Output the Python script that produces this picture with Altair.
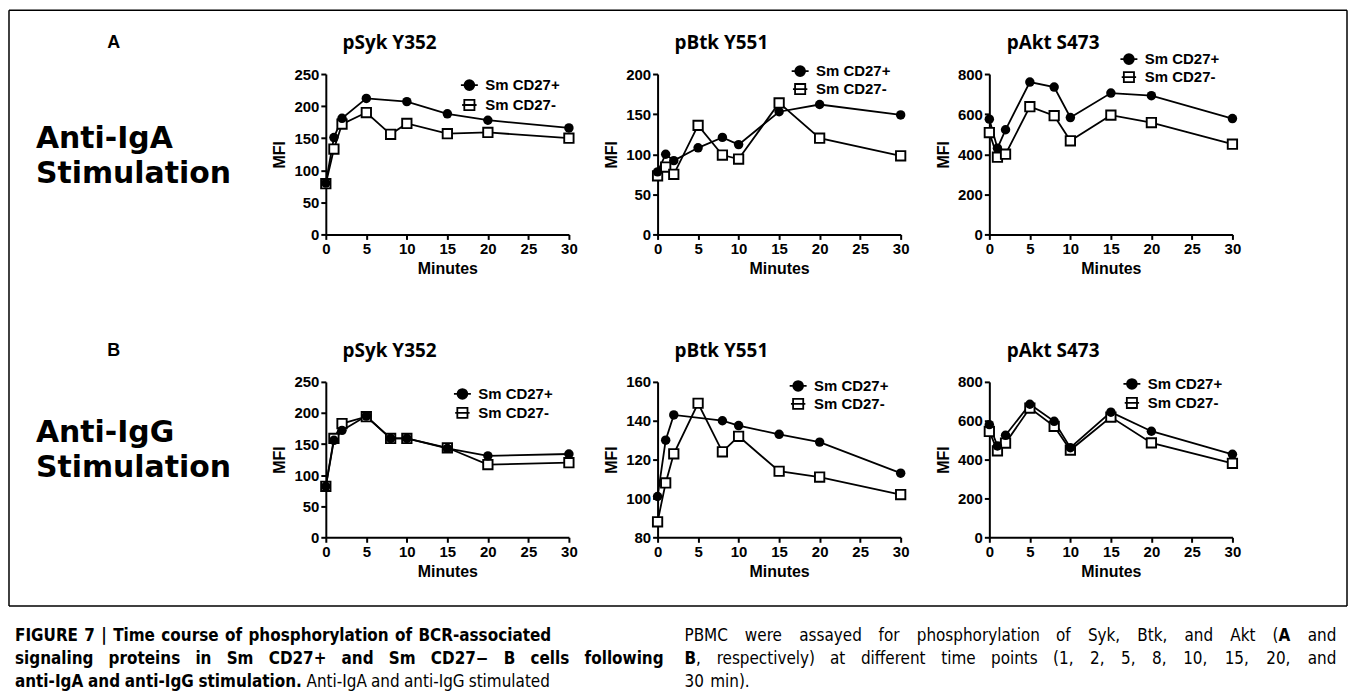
import altair as alt
import pandas as pd

# ---------------- data ----------------
minutes = [0, 1, 2, 5, 8, 10, 15, 20, 30]
minutes_no8 = [0, 1, 2, 5, 10, 15, 20, 30]
minutes_no5 = [0, 1, 2, 8, 10, 15, 20, 30]

# Row A: anti-IgA stimulation
a_syk_pos = [80, 151, 181, 212, 207, 188, 178, 166]          # minutes_no8
a_syk_neg = [79, 133, 172, 190, 156, 173, 157, 159, 150]
a_btk_pos = [78, 100, 92, 108, 121, 112, 153, 162, 149]
a_btk_neg = [73, 84, 75, 136, 99, 94, 164, 120, 98]
a_akt_pos = [575, 430, 522, 760, 735, 583, 705, 692, 578]
a_akt_neg = [508, 385, 400, 637, 592, 467, 595, 558, 450]

# Row B: anti-IgG stimulation
b_syk_pos = [82, 156, 172, 195, 159, 159, 143, 131, 134]
b_syk_neg = [82, 159, 183, 194, 159, 159, 144, 117, 120]
b_btk_pos = [101, 130, 143, 140, 137.5, 133, 129, 113]       # minutes_no5
b_btk_neg = [88, 108, 123, 149, 124, 132, 114, 111, 102]
b_akt_pos = [580, 470, 525, 685, 597, 461, 644, 546, 427]
b_akt_neg = [545, 445, 485, 665, 571, 449, 619, 486, 381]

x_ticks = [0, 5, 10, 15, 20, 25, 30]
series_names = ["Sm CD27+", "Sm CD27-"]
panel_titles = ["pSyk Y352", "pBtk Y551", "pAkt S473"]
row_letters = ["A", "B"]
row_labels = ["Anti-IgA\nStimulation", "Anti-IgG\nStimulation"]

# caption lines: lists of words, each word a list of (text, weight) pieces
B_, N_ = "bold", "normal"
cap_L1 = [[(w, B_)] for w in "FIGURE 7 | Time course of phosphorylation of BCR-associated".split()]
cap_L2 = [[(w, B_)] for w in "signaling proteins in Sm CD27+ and Sm CD27\u2212 B cells following".split()]
cap_L3 = ([[(w, B_)] for w in "anti-IgA and anti-IgG stimulation.".split()]
          + [[(w, N_)] for w in "Anti-IgA and anti-IgG stimulated".split()])
cap_R1 = ([[(w, N_)] for w in "PBMC were assayed for phosphorylation of Syk, Btk, and Akt".split()]
          + [[("(", N_), ("A", B_)], [("and", N_)]])
cap_R2 = ([[("B", B_), (",", N_)]]
          + [[(w, N_)] for w in "respectively) at different time points (1, 2, 5, 8, 10, 15, 20, and".split()])
cap_R3 = [[(w, N_)] for w in "30 min).".split()]

# ---------------- style ----------------
FONT = "Liberation Sans"
TFONT = "Open Sans"
RFONT = "DejaVu Sans"
CFONT = "DejaVu Sans Condensed, Liberation Sans Narrow, Liberation Sans"
PW = 244
HA = 161
HB = 156
LW = 229
COLSP = 89

PLUS_PATH = "M-1,0H1M-0.58,0A0.58,0.58 0 1,1 0.58,0A0.58,0.58 0 1,1 -0.58,0Z"
MINUS_PATH = "M-0.6,-0.6H0.6V0.6H-0.6ZM-0.85,0H0.85"


def legend(cx, cy, path, fillc):
    return alt.Legend(
        orient="none", legendX=cx - 9.4, legendY=cy - 9.4, title=None,
        symbolType=path, symbolSize=289, symbolStrokeWidth=1.8,
        symbolStrokeColor="black", symbolFillColor=fillc, symbolOpacity=1,
        labelFont=FONT, labelFontWeight="bold", labelFontSize=15,
        labelColor="black", labelOffset=6.5, padding=0, labelLimit=300,
    )


def panel(title, xp, yp, xm, ym, ydom, ystep, h, leg):
    dp = pd.DataFrame({"Minutes": xp, "MFI": yp, "series": series_names[0]})
    dm = pd.DataFrame({"Minutes": xm, "MFI": ym, "series": series_names[1]})
    x = alt.X("Minutes:Q",
              scale=alt.Scale(domain=[0, 30], nice=False, zero=False),
              axis=alt.Axis(values=x_ticks, title="Minutes"))
    y = alt.Y("MFI:Q",
              scale=alt.Scale(domain=ydom, nice=False, zero=False),
              axis=alt.Axis(values=list(range(ydom[0], ydom[1] + 1, ystep)), title="MFI"))
    line_p = alt.Chart(dp).mark_line(color="black", strokeWidth=1.8).encode(x=x, y=y)
    line_m = alt.Chart(dm).mark_line(color="black", strokeWidth=1.8).encode(x=x, y=y)
    pts_m = alt.Chart(dm).mark_point(
        shape="square", size=88, filled=False, fill="white", strokeWidth=1.9, opacity=1
    ).encode(
        x=x, y=y,
        stroke=alt.Stroke("series:N",
                          scale=alt.Scale(domain=[series_names[1]], range=["black"]),
                          legend=legend(leg[0], leg[2], MINUS_PATH, "white")),
    )
    pts_p = alt.Chart(dp).mark_point(
        shape="circle", size=90, filled=True, opacity=1
    ).encode(
        x=x, y=y,
        fill=alt.Fill("series:N",
                      scale=alt.Scale(domain=[series_names[0]], range=["black"]),
                      legend=legend(leg[0], leg[1], PLUS_PATH, "black")),
    )
    ttl = alt.Chart(pd.DataFrame({"t": [title]})).mark_text(
        font=TFONT, fontWeight="bold", fontSize=19, align="center",
        baseline="middle", color="black"
    ).encode(text="t:N", x=alt.value(64), y=alt.value(-31))
    return alt.layer(line_p, line_m, pts_m, pts_p, ttl).properties(width=PW, height=h)


def text_layer(txt, x, y, size, weight="bold", font=TFONT, align="left", lh=None):
    kw = {}
    if lh is not None:
        kw = {"lineBreak": "\n", "lineHeight": lh}
    return alt.Chart(pd.DataFrame({"t": [txt]})).mark_text(
        font=font, fontWeight=weight, fontSize=size, align=align,
        baseline="middle", color="black", **kw
    ).encode(text="t:N", x=alt.value(x), y=alt.value(y))


def rule(x1, y1, x2, y2):
    return alt.Chart(pd.DataFrame({"r": [0]})).mark_rule(
        color="black", strokeWidth=1.5
    ).encode(x=alt.value(x1), x2=alt.value(x2), y=alt.value(y1), y2=alt.value(y2))


# ---------- caption word layout (approximate justified text) ----------
REG = {' ': 651, '!': 821, '(': 799, ')': 799, ',': 651, '-': 739, '.': 651, ':': 690,
       ';': 690, '|': 690, '+': 1716, '\u2212': 1716,
       'A': 1401, 'B': 1405, 'C': 1430, 'D': 1577, 'E': 1294, 'F': 1178, 'G': 1587,
       'H': 1540, 'I': 604, 'J': 604, 'K': 1343, 'L': 1141, 'M': 1767, 'N': 1532,
       'O': 1612, 'P': 1235, 'Q': 1612, 'R': 1423, 'S': 1300, 'T': 1251, 'U': 1499,
       'V': 1401, 'W': 2025, 'X': 1403, 'Y': 1251, 'Z': 1405,
       'a': 1255, 'b': 1300, 'c': 1126, 'd': 1300, 'e': 1260, 'f': 721, 'g': 1300,
       'h': 1298, 'i': 569, 'j': 569, 'k': 1186, 'l': 569, 'm': 1995, 'n': 1298,
       'o': 1253, 'p': 1300, 'q': 1300, 'r': 842, 's': 1067, 't': 803, 'u': 1298,
       'v': 1212, 'w': 1675, 'x': 1212, 'y': 1212, 'z': 1075}
BLD = {' ': 713, '(': 934, ')': 934, ',': 778, '-': 852, '.': 778, '|': 739, '+': 1716,
       '\u2212': 1716, 'A': 1590, 'B': 1556, 'C': 1497, 'D': 1696, 'E': 1399, 'F': 1399,
       'G': 1669, 'H': 1714, 'I': 762, 'K': 1567, 'M': 2035, 'P': 1505, 'R': 1567,
       'S': 1479, 'T': 1399, 'U': 1663, 'Y': 1505,
       'a': 1382, 'b': 1466, 'c': 1219, 'd': 1466, 'e': 1389, 'f': 891, 'g': 1466,
       'h': 1458, 'i': 702, 'j': 702, 'k': 1362, 'l': 702, 'm': 2134, 'n': 1458,
       'o': 1407, 'p': 1466, 'r': 1010, 's': 1219, 't': 979, 'u': 1458, 'v': 1335,
       'w': 1892, 'x': 1321, 'y': 1335, 'z': 1192}
CAP_SIZE = 17


def raw_w(s, weight):
    tab = BLD if weight == B_ else REG
    return sum(tab.get(c, 1425 if c.isdigit() else 1300) for c in s)


# calibrate against widths measured in a previous render (17px)
K_B = 529.0 / raw_w("FIGURE 7 | Time course of phosphorylation of BCR-associated", B_) * CAP_SIZE / 17
K_N = 469.0 / raw_w("PBMC were assayed for phosphorylation of Syk, Btk, and Akt (", N_) * CAP_SIZE / 17


def piece_w(t, weight):
    return raw_w(t, weight) * (K_B if weight == B_ else K_N)


def layout_line(words, x0, y, x1=None):
    widths = [sum(piece_w(t, w) for t, w in word) for word in words]
    space = piece_w(" ", N_)
    gap = space
    if x1 is not None and len(words) > 1:
        gap = max(space, (x1 - x0 - sum(widths)) / (len(words) - 1))
    rows = []
    x = x0
    for word, wd in zip(words, widths):
        px = x
        for t, w in word:
            rows.append({"txt": t, "x": px, "y": y, "weight": w})
            px += piece_w(t, w)
        x += wd + gap
    return rows


cap_y = [99, 122, 145]
cap_rows = (layout_line(cap_L1, 6, cap_y[0], 544)
            + layout_line(cap_L2, 6, cap_y[1], 657)
            + layout_line(cap_L3, 6, cap_y[2])
            + layout_line(cap_R1, 678, cap_y[0], 1332)
            + layout_line(cap_R2, 678, cap_y[1], 1332)
            + layout_line(cap_R3, 678, cap_y[2]))
cap_df = pd.DataFrame(cap_rows)


def cap_layer(weight):
    return alt.Chart(cap_df[cap_df["weight"] == weight]).mark_text(
        font=CFONT, fontWeight=weight, fontSize=CAP_SIZE, align="left",
        baseline="middle", color="black"
    ).encode(text="txt:N", x=alt.X("x:Q", scale=None), y=alt.Y("y:Q", scale=None))


# row label panels (first one also carries the figure frame)
RL = 30
RLH = 35
BOX_B = 534
label_a = alt.layer(
    rule(0, -64, 1343, -64), rule(0, -64, 0, BOX_B), rule(1343, -64, 1343, BOX_B),
    rule(0, BOX_B, 1343, BOX_B),
    text_layer(row_letters[0], 105, -31, 18, font=FONT, align="center"),
    text_layer(row_labels[0], 27, 65, RL, font=RFONT, lh=RLH),
).properties(width=LW, height=HA + 148)

label_b = alt.layer(
    text_layer(row_letters[1], 105, -31, 18, font=FONT, align="center"),
    text_layer(row_labels[1], 27, 51, RL, font=RFONT, lh=RLH),
).properties(width=LW, height=HB)

pA1 = panel(panel_titles[0], minutes_no8, a_syk_pos, minutes, a_syk_neg, [0, 250], 50, HA, (144, 11, 31))
pA2 = panel(panel_titles[1], minutes, a_btk_pos, minutes, a_btk_neg, [0, 200], 50, HA, (143, -3, 15))
pA3 = panel(panel_titles[2], minutes, a_akt_pos, minutes, a_akt_neg, [0, 800], 200, HA, (140, -15, 3))
pB1 = panel(panel_titles[0], minutes, b_syk_pos, minutes, b_syk_neg, [0, 250], 50, HB, (137, 12, 31))
pB2 = panel(panel_titles[1], minutes_no5, b_btk_pos, minutes, b_btk_neg, [80, 160], 20, HB, (141, 4, 22))
pB3 = panel(panel_titles[2], minutes, b_akt_pos, minutes, b_akt_neg, [0, 800], 200, HB, (143, 2, 21))

caption = alt.layer(cap_layer(B_), cap_layer(N_)).properties(width=LW, height=10)

chart = alt.concat(
    label_a, pA1, pA2, pA3,
    label_b, pB1, pB2, pB3,
    caption,
    columns=4, bounds="flush", align="each",
    spacing={"row": 0, "column": COLSP},
).resolve_scale(
    fill="independent", stroke="independent"
).resolve_legend(
    fill="independent", stroke="independent"
).properties(padding=0).configure_view(stroke=None).configure_axis(
    grid=False, domainColor="black", domainWidth=2, tickColor="black",
    tickWidth=2, tickSize=5, labelFont=FONT, labelFontWeight="bold",
    labelFontSize=15, labelColor="black", labelPadding=2, labelOverlap=False,
    labelFlush=False, titleFont=FONT, titleFontWeight="bold", titleFontSize=16,
    titleColor="black",
).configure_axisX(titlePadding=4).configure_axisY(titlePadding=6)

chart.save("out.html", embed_options={"renderer": "svg", "actions": False})
